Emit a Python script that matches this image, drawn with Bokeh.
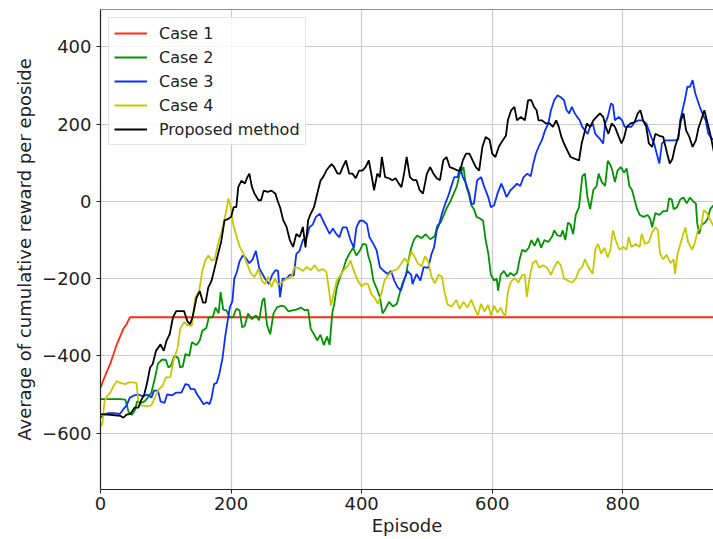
from bokeh.plotting import figure
from bokeh.models import Range1d, Span, FixedTicker
from bokeh.embed import file_html
from bokeh.resources import INLINE

# ---------------- data ----------------
ep_case1 = [0, 5, 10, 15, 20, 25, 30, 35, 40, 45, 940]
val_case1 = [-483, -460, -440, -420, -395, -370, -350, -330, -318, -300, -300]

ep_case2 = [0, 10, 20, 30, 38, 43, 48, 53, 56, 62, 68, 74, 78, 83, 88, 94, 100, 104, 108, 113,
            119, 122, 126, 130, 136, 140, 147, 152, 156, 162, 166, 172, 176, 181, 184, 188, 193, 198, 203, 208,
            213, 217, 221, 226, 232, 238, 243, 248, 251, 255, 260, 265, 270, 276, 282, 288, 294, 300, 307, 313,
            318, 322, 327, 332, 337, 342, 347, 351, 355, 358, 362, 367, 372, 376, 381, 387, 392, 397, 402, 407,
            410, 414, 418, 423, 428, 432, 436, 442, 448, 454, 458, 463, 468, 472, 476, 480, 485, 492, 498, 505,
            512, 516, 521, 526, 531, 536, 541, 546, 550, 553, 556, 560, 564, 568, 572, 576, 582, 586, 590, 594,
            598, 603, 607, 609, 613, 618, 623, 628, 633, 638, 642, 646, 651, 656, 660, 665, 670, 675, 680, 686,
            692, 695, 700, 705, 708, 712, 716, 720, 724, 728, 733, 738, 742, 746, 750, 755, 760, 763, 768, 773,
            777, 781, 784, 788, 792, 797, 802, 806, 810, 814, 818, 822, 826, 832, 838, 842, 845, 850, 856, 862,
            868, 871, 875, 878, 883, 888, 893, 898, 903, 908, 912, 914, 917, 921, 926, 930, 934, 940]
val_case2 = [-512, -512, -512, -512, -513, -545, -553, -540, -518, -522, -517, -505, -495, -460, -420, -410, -410, -430, -425, -400,
             -405, -430, -428, -395, -400, -365, -372, -360, -335, -328, -300, -300, -275, -290, -235, -280, -282, -300, -300, -278,
             -282, -326, -322, -290, -305, -295, -308, -257, -250, -320, -344, -290, -275, -270, -272, -285, -282, -280, -275, -282,
             -280, -330, -344, -360, -345, -372, -350, -372, -290, -266, -222, -196, -175, -153, -136, -120, -140, -128, -110, -112,
             -140, -162, -205, -225, -248, -290, -280, -260, -272, -265, -240, -210, -190, -150, -120, -100, -88, -95, -85, -98,
             -90, -62, -55, -35, -15, 0, 20, 40, 70, 80, 89, 40, 20, -10, -20, -40, -45, -50, -100, -135,
             -190, -205, -200, -231, -190, -180, -195, -185, -192, -185, -150, -125, -130, -120, -100, -115, -95, -120, -100, -105,
             -90, -75, -88, -90, -75, -100, -55, -60, -85, -35, -15, 65, 72, 10, -20, 30, 40, 72, 50, 40,
             105, 95, 80, 50, 80, 89, 75, 85, 40, 30, 5, -20, -35, -40, -35, -45, -67, -30, -35, -25,
             -25, 8, 5, -20, -15, 5, 10, -5, 10, 0, -5, -55, -84, -60, -55, -45, -20, -8]

ep_case3 = [0, 5, 12, 20, 30, 35, 40, 45, 52, 58, 65, 72, 78, 82, 88, 92, 98, 102, 110, 116,
            124, 130, 135, 138, 144, 148, 153, 158, 163, 167, 170, 174, 178, 182, 187, 191, 194, 198, 202, 205,
            209, 213, 218, 222, 228, 233, 238, 243, 248, 252, 258, 263, 268, 272, 275, 279, 285, 290, 296, 300,
            305, 310, 316, 320, 325, 330, 336, 341, 346, 351, 356, 361, 366, 371, 377, 383, 388, 392, 397, 402,
            408, 412, 418, 423, 428, 434, 440, 445, 450, 455, 460, 465, 470, 476, 478, 484, 490, 495, 502, 507,
            511, 515, 519, 523, 528, 532, 537, 542, 547, 551, 555, 560, 565, 568, 572, 577, 583, 588, 594, 598,
            603, 608, 614, 618, 622, 628, 633, 638, 643, 648, 654, 659, 663, 667, 671, 676, 681, 686, 690, 695,
            700, 705, 710, 714, 718, 722, 726, 730, 734, 738, 742, 746, 750, 754, 758, 762, 766, 770, 773, 777,
            782, 785, 788, 794, 799, 803, 808, 813, 818, 824, 830, 836, 840, 844, 848, 852, 856, 860, 865, 870,
            880, 885, 888, 892, 895, 899, 903, 907, 911, 915, 918, 922, 927, 931, 935, 940]
val_case3 = [-560, -552, -548, -548, -550, -538, -528, -508, -502, -500, -505, -500, -508, -490, -490, -518, -522, -500, -502, -495,
             -495, -473, -475, -486, -486, -500, -512, -525, -520, -525, -510, -473, -470, -447, -405, -350, -318, -275, -258, -200,
             -182, -155, -140, -145, -160, -150, -128, -172, -188, -200, -214, -190, -178, -180, -248, -200, -200, -190, -192, -136,
             -128, -100, -93, -67, -60, -40, -32, -50, -67, -84, -70, -84, -93, -67, -67, -100, -120, -67, -50, -50,
             -58, -93, -110, -127, -170, -180, -188, -180, -205, -222, -231, -205, -180, -190, -214, -188, -205, -170, -172, -136,
             -119, -75, -58, -32, -6, 11, 37, 63, 63, 89, 63, 46, 20, -6, -6, 55, 63, 37, 11, -15,
             -10, 20, 46, 30, 11, 29, 37, 46, 40, 63, 72, 65, 98, 124, 141, 158, 184, 202, 236, 262,
             275, 270, 262, 236, 228, 245, 230, 219, 210, 193, 184, 175, 193, 202, 175, 167, 160, 150, 202, 219,
             254, 250, 210, 219, 210, 193, 193, 193, 205, 210, 210, 202, 184, 165, 150, 124, 98, 150, 158, 158,
             158, 160, 210, 240, 262, 297, 297, 314, 280, 260, 245, 228, 210, 175, 165, 158]

ep_case4 = [0, 3, 6, 10, 15, 20, 25, 30, 38, 45, 55, 58, 62, 70, 78, 84, 90, 95, 100, 107,
            112, 118, 122, 128, 133, 140, 145, 151, 156, 160, 165, 170, 175, 180, 186, 192, 196, 200, 204, 210,
            214, 219, 224, 230, 236, 242, 247, 252, 257, 262, 267, 272, 278, 285, 292, 297, 303, 310, 316, 322,
            328, 334, 340, 346, 350, 353, 357, 362, 368, 374, 380, 383, 388, 394, 400, 405, 410, 415, 420, 425,
            430, 435, 441, 448, 455, 461, 466, 471, 476, 480, 486, 492, 497, 502, 507, 512, 518, 523, 527, 532,
            538, 545, 550, 556, 562, 568, 574, 578, 583, 588, 594, 598, 603, 608, 613, 617, 620, 624, 628, 634,
            640, 646, 650, 653, 657, 662, 667, 672, 678, 684, 690, 695, 700, 705, 710, 716, 722, 728, 733, 738,
            742, 748, 754, 758, 762, 767, 772, 777, 781, 785, 790, 795, 801, 806, 809, 813, 820, 826, 829, 834,
            840, 845, 850, 854, 857, 862, 867, 873, 878, 880, 884, 890, 896, 900, 906, 910, 915, 920, 924, 929,
            933, 940]
val_case4 = [-583, -575, -520, -505, -495, -478, -465, -470, -473, -468, -470, -515, -528, -530, -528, -505, -485, -478, -456, -455,
             -410, -380, -330, -312, -320, -322, -250, -232, -180, -155, -140, -152, -150, -110, -75, -30, 8, -20, -65, -100,
             -120, -135, -160, -185, -196, -175, -205, -214, -195, -222, -200, -215, -210, -200, -198, -170, -172, -180, -170, -178,
             -165, -180, -175, -182, -230, -270, -240, -205, -190, -175, -165, -153, -180, -205, -220, -212, -215, -240, -250, -265,
             -240, -205, -190, -180, -175, -160, -147, -160, -130, -140, -160, -168, -142, -155, -195, -212, -190, -195, -235, -268,
             -272, -255, -278, -260, -275, -255, -280, -295, -265, -285, -268, -295, -270, -288, -275, -290, -298, -235, -210, -198,
             -210, -190, -190, -248, -200, -160, -153, -172, -165, -172, -190, -170, -155, -165, -200, -205, -210, -200, -178, -170,
             -150, -172, -188, -125, -110, -135, -120, -145, -125, -75, -105, -125, -118, -125, -92, -118, -110, -118, -84, -110,
             -105, -80, -67, -75, -135, -150, -138, -160, -150, -188, -135, -100, -67, -105, -125, -110, -75, -67, -23, -30,
             -45, -67]

ep_proposed = [0, 15, 30, 35, 40, 46, 52, 58, 62, 67, 71, 76, 80, 85, 92, 97, 101, 106, 111, 116,
               122, 128, 133, 137, 141, 147, 152, 157, 161, 165, 170, 175, 180, 185, 190, 196, 200, 204, 208, 211,
               216, 221, 225, 228, 232, 236, 242, 246, 250, 256, 262, 268, 271, 275, 280, 285, 290, 295, 300, 305,
               310, 314, 318, 322, 327, 332, 337, 341, 346, 350, 354, 358, 363, 367, 371, 376, 381, 386, 391, 396,
               401, 406, 411, 416, 419, 424, 428, 431, 436, 442, 447, 452, 457, 461, 465, 469, 474, 479, 484, 489,
               494, 500, 505, 510, 515, 520, 525, 530, 535, 541, 547, 551, 555, 560, 565, 570, 575, 580, 585, 590,
               596, 600, 605, 610, 616, 621, 624, 629, 634, 638, 644, 650, 655, 660, 664, 668, 671, 676, 682, 688,
               693, 698, 702, 706, 710, 715, 720, 727, 733, 737, 741, 745, 750, 755, 760, 765, 770, 774, 778, 783,
               788, 794, 798, 802, 806, 812, 818, 823, 827, 831, 836, 840, 845, 850, 856, 862, 868, 872, 876, 880,
               885, 889, 893, 897, 902, 907, 912, 916, 920, 925, 930, 934, 937, 940]
val_proposed = [-551, -553, -555, -560, -552, -550, -534, -534, -516, -500, -473, -430, -421, -387, -370, -387, -361, -344, -300, -284,
                -284, -284, -310, -318, -300, -250, -232, -262, -262, -223, -206, -172, -137, -103, -49, -45, -40, -15, -15, 37,
                54, 46, 63, 72, 37, 20, 3, 3, 28, 25, 28, 20, 3, -15, -49, -66, -100, -118, -84, -92,
                -66, -119, -49, -32, -15, 20, 54, 63, 80, 89, 97, 89, 72, 72, 89, 106, 72, 72, 60, 80,
                80, 89, 106, 60, 29, 72, 63, 115, 63, 60, 55, 60, 46, 37, 72, 115, 63, 55, 55, 29,
                20, 72, 89, 72, 60, 55, 106, 115, 89, 85, 80, 80, 106, 124, 124, 106, 89, 80, 141, 167,
                160, 124, 115, 141, 158, 170, 210, 236, 245, 210, 219, 210, 262, 262, 245, 236, 210, 210, 202, 202,
                193, 210, 193, 167, 150, 132, 115, 110, 106, 150, 176, 202, 193, 210, 219, 228, 219, 193, 175, 202,
                193, 167, 150, 165, 193, 202, 205, 228, 236, 210, 193, 150, 141, 175, 170, 167, 124, 98, 110, 141,
                167, 210, 228, 184, 167, 141, 158, 190, 210, 236, 202, 175, 150, 124]

series = [
    ("Case 1", ep_case1, val_case1, "#ff2a10"),
    ("Case 2", ep_case2, val_case2, "#009400"),
    ("Case 3", ep_case3, val_case3, "#0a30ff"),
    ("Case 4", ep_case4, val_case4, "#c8c800"),
    ("Proposed method", ep_proposed, val_proposed, "#000000"),
]

x_ticks = [0, 200, 400, 600, 800]
y_ticks = [-600, -400, -200, 0, 200, 400]
y_tick_labels = {t: (("\u2212" + str(-t)) if t < 0 else str(t)) for t in y_ticks}

X_MIN, X_MAX = 0, 939
Y_MIN, Y_MAX = -746, 497

# ---------------- figure ----------------
p = figure(width=713, height=539, output_backend="svg", toolbar_location=None,
           x_range=Range1d(X_MIN, X_MAX), y_range=Range1d(Y_MIN, Y_MAX),
           min_border_left=100, min_border_right=0, min_border_top=9, min_border_bottom=50)
p.outline_line_color = None
p.background_fill_color = "white"
p.border_fill_color = "white"

for name, xs, ys, col in series:
    p.line(xs, ys, line_color=col, line_width=1.8, legend_label=name)

# top spine
p.add_layout(Span(location=Y_MAX, dimension="width", line_color="#222222", line_width=1.2))

font = "DejaVu Sans"
for ax in (p.xaxis[0], p.yaxis[0]):
    ax.axis_line_color = "#222222"
    ax.axis_line_width = 1.2
    ax.major_tick_line_color = "#222222"
    ax.major_tick_out = 4
    ax.major_tick_in = 0
    ax.minor_tick_line_color = None
    ax.major_label_text_font = font
    ax.major_label_text_font_size = "18px"
    ax.major_label_text_color = "#222222"
    ax.axis_label_text_font = font
    ax.axis_label_text_font_size = "18px"
    ax.axis_label_text_font_style = "normal"
    ax.axis_label_text_color = "#222222"

p.xaxis[0].ticker = FixedTicker(ticks=x_ticks)
p.yaxis[0].ticker = FixedTicker(ticks=y_ticks)
p.yaxis[0].major_label_overrides = y_tick_labels
p.xaxis[0].axis_label = "Episode"
p.yaxis[0].axis_label = "Average of cumulative reward per eposide"
p.xaxis[0].major_label_standoff = 3
p.xaxis[0].axis_label_standoff = 2
p.yaxis[0].major_label_standoff = 5
p.yaxis[0].axis_label_standoff = 4

p.xgrid.ticker = FixedTicker(ticks=x_ticks)
p.ygrid.ticker = FixedTicker(ticks=y_ticks)
for g in (p.xgrid[0], p.ygrid[0]):
    g.grid_line_color = "#cbcbcb"
    g.grid_line_width = 1.2

leg = p.legend[0]
leg.location = "top_left"
leg.margin = 8
leg.padding = 5
leg.spacing = 4
leg.glyph_width = 33
leg.glyph_height = 20
leg.label_height = 20
leg.label_standoff = 12
leg.label_text_font = font
leg.label_text_font_size = "16px"
leg.label_text_color = "#222222"
leg.border_line_color = "#cccccc"
leg.border_line_width = 1
leg.background_fill_color = "white"
leg.background_fill_alpha = 0.8

open("out.html", "w").write(file_html(p, INLINE))
